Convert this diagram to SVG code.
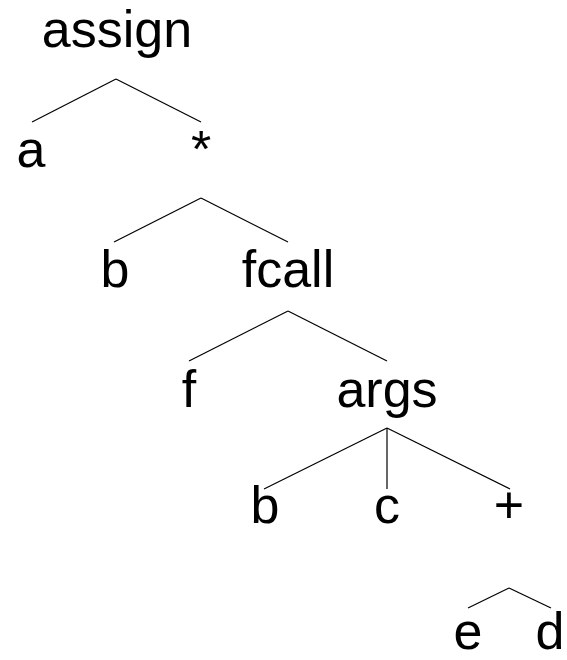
<svg xmlns="http://www.w3.org/2000/svg" width="567" height="660" viewBox="0 0 567 660">
<style>
text { font-family: "Liberation Sans", Arial, sans-serif; font-size: 52px; fill: #000; text-anchor: middle; }
line { stroke: #000; stroke-width: 1.2; }
</style>
<rect width="567" height="660" fill="#fff"/>
<g id="edges">
<line x1="116" y1="79" x2="32" y2="122"/>
<line x1="116" y1="79" x2="201" y2="122"/>
<line x1="201" y1="198" x2="114" y2="242"/>
<line x1="201" y1="198" x2="288" y2="242"/>
<line x1="288" y1="311" x2="189" y2="361"/>
<line x1="288" y1="311" x2="387" y2="361"/>
<line x1="387" y1="428" x2="264" y2="489"/>
<line x1="387" y1="428" x2="387" y2="489"/>
<line x1="387" y1="428" x2="510" y2="489"/>
<line x1="509" y1="588" x2="468" y2="608"/>
<line x1="509" y1="588" x2="551" y2="608"/>
</g>
<g id="n-assign"><text x="117" y="47">assign</text></g>
<g id="n-a"><text x="31" y="167">a</text></g>
<g id="n-mul"><text x="201" y="167">*</text></g>
<g id="n-b1"><text x="115" y="287">b</text></g>
<g id="n-fcall"><text x="288" y="287">fcall</text></g>
<g id="n-f"><text x="189" y="407">f</text></g>
<g id="n-args"><text x="387" y="407">args</text></g>
<g id="n-b2"><text x="265" y="523">b</text></g>
<g id="n-c"><text x="387" y="523">c</text></g>
<g id="n-plus"><text x="509" y="523">+</text></g>
<g id="n-e"><text x="468" y="649">e</text></g>
<g id="n-d"><text x="550" y="649">d</text></g>
</svg>
